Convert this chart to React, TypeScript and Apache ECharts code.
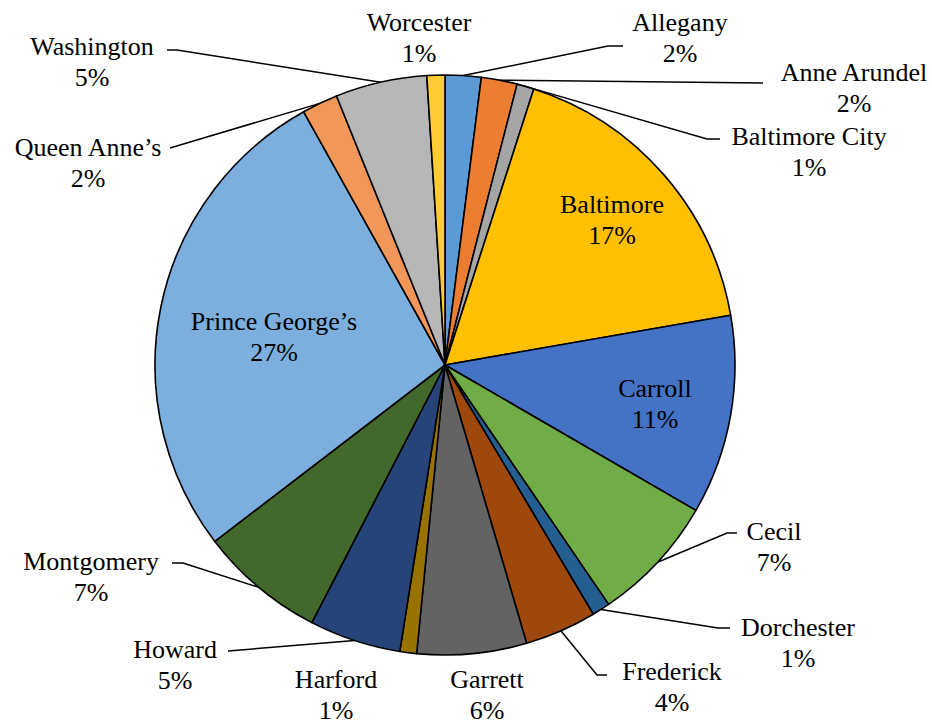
import React, { useEffect, useRef } from "react";
import * as echarts from "echarts";

// Counties (clockwise from 12 o'clock) and their share of the total, in percent
const COUNTIES = [
  "Allegany",
  "Anne Arundel",
  "Baltimore City",
  "Baltimore",
  "Carroll",
  "Cecil",
  "Dorchester",
  "Frederick",
  "Garrett",
  "Harford",
  "Howard",
  "Montgomery",
  "Prince George\u2019s",
  "Queen Anne\u2019s",
  "Washington",
  "Worcester",
];
const SHARES = [2.0, 2.0, 0.95, 17.3, 11.1, 7.1, 1.0, 4.0, 6.1, 0.93, 5.1, 7.0, 27.3, 2.0, 5.1, 1.0];

const COLORS = [
  "#5B9BD5",
  "#ED7D31",
  "#A5A5A5",
  "#FFC000",
  "#4472C4",
  "#70AD47",
  "#255E91",
  "#9E480E",
  "#636363",
  "#997300",
  "#264478",
  "#43682B",
  "#7CAFDD",
  "#F1975A",
  "#B7B7B7",
  "#FFCD33",
];

const INSIDE = ["Baltimore", "Carroll", "Prince George\u2019s"];
const NO_LINE = ["Worcester", "Garrett", "Harford"];

const FONT = "Liberation Serif";

// Label placement (centre of the two-line label) and leader-line end offsets
type LabelPos = { x: number; y: number; line?: [number, number]; elbow?: number };
const LABEL_POS: Record<string, LabelPos> = {
  Allegany: { x: 680, y: 38, line: [-57, 8], elbow: 15 },
  "Anne Arundel": { x: 854, y: 88, line: [-91, -5], elbow: 0 },
  "Baltimore City": { x: 809, y: 152, line: [-89, -13], elbow: 13 },
  Baltimore: { x: 612, y: 220 },
  Carroll: { x: 655, y: 404 },
  Cecil: { x: 774, y: 547, line: [-37, -14], elbow: 10 },
  Dorchester: { x: 798, y: 643, line: [-68, -15], elbow: 12 },
  Frederick: { x: 672, y: 687, line: [-65, -12], elbow: 10 },
  Garrett: { x: 487, y: 695 },
  Harford: { x: 336, y: 695 },
  Howard: { x: 175, y: 665, line: [53, -14], elbow: 0 },
  Montgomery: { x: 91, y: 577, line: [81, -14], elbow: 11 },
  "Prince George\u2019s": { x: 274, y: 337 },
  "Queen Anne\u2019s": { x: 88, y: 163, line: [82, -15], elbow: 0 },
  Washington: { x: 92, y: 62, line: [75, -12], elbow: 10 },
  Worcester: { x: 419, y: 38 },
};

export default function App() {
  const ref = useRef<HTMLDivElement>(null);

  useEffect(() => {
    if (!ref.current) return;
    const chart = echarts.init(ref.current, undefined, { renderer: "svg" });

    const labelText = {
      color: "#000000",
      fontFamily: FONT,
      fontSize: 26,
      lineHeight: 31,
    };

    const data = COUNTIES.map((name, i) => ({
      name,
      value: SHARES[i],
      itemStyle: { color: COLORS[i] },
      label: {
        position: INSIDE.includes(name) ? "inside" : "outside",
        ...labelText,
      },
      labelLine: { show: !INSIDE.includes(name) && !NO_LINE.includes(name) },
    }));

    chart.setOption({
      animation: false,
      backgroundColor: "#ffffff",
      textStyle: { fontFamily: FONT },
      series: [
        {
          type: "pie",
          center: [445, 365],
          radius: 290,
          startAngle: 90,
          clockwise: true,
          avoidLabelOverlap: false,
          silent: true,
          itemStyle: { borderColor: "#000000", borderWidth: 1.6 },
          label: {
            show: true,
            formatter: (p: any) => `${p.name}\n${Math.round(p.percent)}%`,
            ...labelText,
            align: "center",
          },
          labelLine: {
            show: true,
            length: 10,
            length2: 10,
            smooth: false,
            lineStyle: { color: "#000000", width: 1.5 },
          },
          labelLayout: (params: any) => {
            const name = COUNTIES[params.dataIndex];
            const p = LABEL_POS[name];
            const out: any = { x: p.x, y: p.y, align: "center", verticalAlign: "middle" };
            if (p.line && params.labelLinePoints) {
              const edge = params.labelLinePoints[0];
              const ex = p.x + p.line[0];
              const ey = p.y + p.line[1];
              const dir = ex > edge[0] ? -1 : 1;
              const elbow = [ex + dir * (p.elbow || 0), ey];
              out.labelLinePoints = [edge, elbow, [ex, ey]];
            }
            return out;
          },
          data,
        },
      ],
    });

    return () => chart.dispose();
  }, []);

  return (
    <div
      ref={ref}
      style={{ position: "fixed", left: 0, top: 0, width: 932, height: 724, background: "#fff" }}
    />
  );
}
